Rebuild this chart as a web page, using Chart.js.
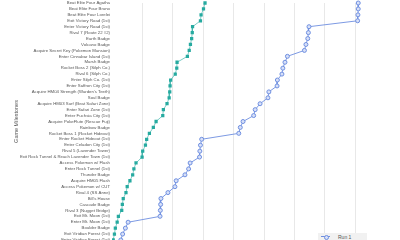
<!DOCTYPE html>
<html>
<head>
<meta charset="utf-8">
<script src="https://cdn.jsdelivr.net/npm/chart.js@4.4.0/dist/chart.umd.min.js"></script>
<style>
  html, body { margin: 0; padding: 0; overflow: hidden; background: #fff; }
  #wrap { position: relative; width: 400px; height: 264px; margin-top: -2.5px; }
  #legend {
    position: absolute; left: 318px; top: 235.5px; width: 49px; height: 14px;
    background: #f1f1f1; font: 5px 'Liberation Sans', Arial, sans-serif; color: #555;
  }
  #legend .mark { position: absolute; left: 3px; top: 3px; width: 9px; border-top: 1px solid #6f8fe0; }
  #legend .dot { position: absolute; left: 2.5px; top: -2.5px; width: 3px; height: 3px; border: 1px solid #6f8fe0; border-radius: 50%; background: #d7e0f8; }
  #legend .txt { position: absolute; left: 20px; top: 0.5px; }
</style>
</head>
<body>
<div id="wrap">
  <canvas id="chart"></canvas>
  <div id="legend"><span class="mark"><span class="dot"></span></span><span class="txt">Run 1</span></div>
</div>
<script>
const milestones = [
    'Beat Elite Four Agatha',
    'Beat Elite Four Bruno',
    'Beat Elite Four Lorelei',
    'Exit Victory Road (1st)',
    'Enter Victory Road (1st)',
    'Rival 7 (Route 22 #2)',
    'Earth Badge',
    'Volcano Badge',
    'Acquire Secret Key (Pokemon Mansion)',
    'Enter Cinnabar Island (1st)',
    'Marsh Badge',
    'Rocket Boss 2 (Silph Co.)',
    'Rival 6 (Silph Co.)',
    'Enter Silph Co. (1st)',
    'Enter Saffron City (1st)',
    "Acquire HM04 Strength (Warden's Teeth)",
    'Soul Badge',
    'Acquire HM03 Surf (Beat Safari Zone)',
    'Enter Safari Zone (1st)',
    'Enter Fuchsia City (1st)',
    'Acquire PokeFlute (Rescue Fuji)',
    'Rainbow Badge',
    'Rocket Boss 1 (Rocket Hideout)',
    'Enter Rocket Hideout (1st)',
    'Enter Celadon City (1st)',
    'Rival 5 (Lavender Tower)',
    'Exit Rock Tunnel & Reach Lavender Town (1st)',
    'Access Pokemon w/ Flash',
    'Enter Rock Tunnel (1st)',
    'Thunder Badge',
    'Acquire HM05 Flash',
    'Access Pokemon w/ CUT',
    'Rival 4 (SS Anne)',
    "Bill's House",
    'Cascade Badge',
    'Rival 3 (Nugget Bridge)',
    'Exit Mt. Moon (1st)',
    'Enter Mt. Moon (1st)',
    'Boulder Badge',
    'Exit Viridian Forest (1st)',
    'Enter Viridian Forest (1st)'
];

const run1Hours = [
    8.10, 8.10, 8.09, 8.08, 6.48, 6.46, 6.44, 6.38, 6.33, 5.77,
    5.69, 5.62, 5.59, 5.44, 5.43, 5.16, 5.13, 4.87, 4.71, 4.66,
    4.31, 4.22, 4.17, 2.95, 2.91, 2.89, 2.88, 2.57, 2.52, 2.40,
    2.11, 2.07, 1.84, 1.61, 1.60, 1.59, 1.58, 0.53, 0.44, 0.35,
    0.29
];

const run2Hours = [
    3.06, 3.01, 2.93, 2.91, 2.65, 2.64, 2.62, 2.58, 2.54, 2.48,
    2.14, 2.13, 2.08, 1.93, 1.91, 1.90, 1.88, 1.81, 1.69, 1.67,
    1.45, 1.36, 1.23, 1.14, 1.10, 1.01, 0.99, 0.79, 0.72, 0.68,
    0.59, 0.50, 0.46, 0.37, 0.34, 0.32, 0.21, 0.17, 0.11, 0.08,
    0.04
];

const hourMin = 0;
const hourMax = 9;

const ctx = document.getElementById('chart').getContext('2d');
new Chart(ctx, {
    type: 'line',
    data: {
        labels: milestones,
        datasets: [{
            label: 'Run 1',
            data: run1Hours,
            borderColor: 'rgba(111, 143, 224, 0.9)',
            borderWidth: 1,
            pointStyle: 'circle',
            pointRadius: 2,
            pointBorderWidth: 1,
            pointBorderColor: '#6f8fe0',
            pointBackgroundColor: '#d7e0f8',
            tension: 0
        }, {
            label: 'Run 2',
            data: run2Hours,
            borderColor: 'rgba(38, 170, 160, 0.6)',
            borderWidth: 1,
            pointStyle: 'rect',
            pointRadius: 2.3,
            pointBorderWidth: 0,
            pointBackgroundColor: '#26aaa0',
            tension: 0
        }]
    },
    options: {
        indexAxis: 'y',
        responsive: true,
        maintainAspectRatio: false,
        animation: false,
        layout: { padding: { top: 0, right: 14.4, bottom: 0, left: 0 } },
        plugins: {
            legend: { display: false },
            tooltip: { enabled: false }
        },
        scales: {
            y: {
                type: 'category',
                offset: false,
                grid: { display: false, drawTicks: false },
                border: { display: false },
                ticks: {
                    autoSkip: false,
                    padding: 2,
                    color: '#555',
                    font: { family: "'Liberation Sans', Arial, sans-serif", size: 4.3 }
                },
                title: {
                    display: true,
                    text: 'Game Milestones',
                    color: '#555',
                    padding: { top: 13.5, bottom: 0 },
                    font: { family: "'Liberation Sans', Arial, sans-serif", size: 5.5 }
                },
                afterFit: scale => { scale.width = 112; }
            },
            x: {
                type: 'linear',
                min: hourMin,
                max: hourMax,
                border: { display: false },
                grid: {
                    color: c => (c.tick && (c.tick.value === hourMin || c.tick.value === hourMax)) ? 'rgba(0,0,0,0)' : '#e8e8e8',
                    lineWidth: 1
                },
                ticks: {
                    stepSize: 1,
                    color: '#555',
                    font: { size: 5 }
                },
                afterFit: scale => { scale.height = 22; }
            }
        }
    }
});
</script>
</body>
</html>
